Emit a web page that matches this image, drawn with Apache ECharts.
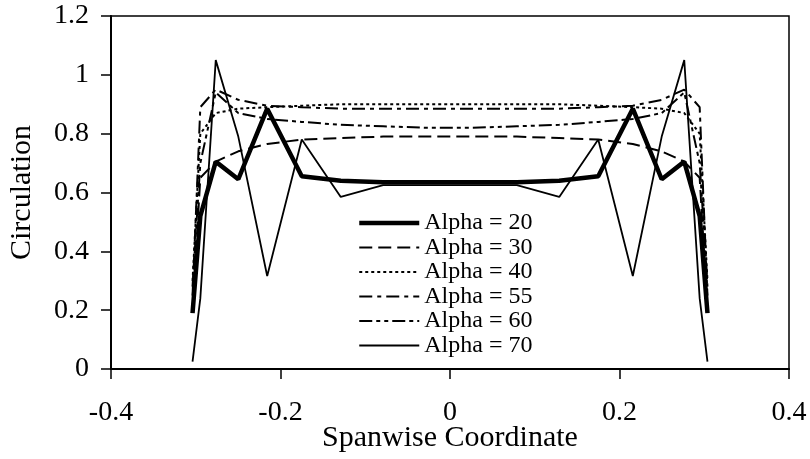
<!DOCTYPE html>
<html>
<head>
<meta charset="utf-8">
<script src="https://cdn.jsdelivr.net/npm/echarts@6/dist/echarts.min.js"></script>
<style>html,body{margin:0;padding:0;background:#fff}#c{width:810px;height:459px}</style>
</head>
<body>
<div id="c"></div>
<script>
// Spanwise stations (left half then right half, mirror)
var xs = [-0.3038, -0.2946, -0.2764, -0.2498, -0.2157, -0.1749, -0.1289, -0.0789, -0.0266,
           0.0266,  0.0789,  0.1289,  0.1749,  0.2157,  0.2498,  0.2764,  0.2946,  0.3038];
var seriesNames = ['Alpha = 20', 'Alpha = 30', 'Alpha = 40', 'Alpha = 55', 'Alpha = 60', 'Alpha = 70'];
var a20 = [0.19, 0.52, 0.705, 0.645, 0.885, 0.655, 0.64, 0.635, 0.635,
           0.635, 0.635, 0.64, 0.655, 0.885, 0.645, 0.705, 0.52, 0.19];
var a30 = [0.20, 0.65, 0.705, 0.74, 0.765, 0.78, 0.785, 0.79, 0.79,
           0.79, 0.79, 0.785, 0.78, 0.765, 0.74, 0.705, 0.65, 0.20];
var a40 = [0.30, 0.80, 0.87, 0.885, 0.89, 0.895, 0.90, 0.90, 0.90,
           0.90, 0.90, 0.90, 0.895, 0.89, 0.885, 0.87, 0.80, 0.30];
var a55 = [0.25, 0.89, 0.95, 0.915, 0.895, 0.89, 0.885, 0.885, 0.885,
           0.885, 0.885, 0.885, 0.89, 0.895, 0.915, 0.95, 0.89, 0.25];
var a60 = [0.28, 0.70, 0.94, 0.87, 0.85, 0.84, 0.83, 0.825, 0.82,
           0.82, 0.825, 0.83, 0.84, 0.85, 0.87, 0.94, 0.70, 0.28];
var a70 = [0.025, 0.24, 1.05, 0.79, 0.316, 0.78, 0.585, 0.625, 0.625,
           0.625, 0.625, 0.585, 0.78, 0.316, 0.79, 1.05, 0.24, 0.025];
var xTicks = [-0.4, -0.2, 0, 0.2, 0.4];
var yTicks = [0, 0.2, 0.4, 0.6, 0.8, 1, 1.2];

var values = [a20, a30, a40, a55, a60, a70];
var styles = [
  {width: 4.5, type: 'solid'},
  {width: 2, type: [13, 6]},
  {width: 2, type: [3, 3]},
  {width: 2, type: [13, 5, 4, 5]},
  {width: 2, type: [13, 4, 4, 4, 4, 4]},
  {width: 1.8, type: 'solid'}
];
function pairs(v) { return xs.map(function (x, i) { return [x, v[i]]; }); }

var font = '"Liberation Serif", "Times New Roman", serif';
var chart = echarts.init(document.getElementById('c'), null, {renderer: 'canvas'});
chart.setOption({
  animation: false,
  backgroundColor: '#fff',
  grid: {left: 111, right: 21, top: 16, bottom: 90, show: true, borderColor: '#000', borderWidth: 1.5,
         backgroundColor: 'transparent', containLabel: false, outerBoundsMode: 'none'},
  xAxis: {
    type: 'value', min: xTicks[0], max: xTicks[xTicks.length - 1], interval: 0.2,
    name: 'Spanwise Coordinate', nameLocation: 'middle', nameGap: 54, nameMoveOverlap: false,
    nameTextStyle: {fontFamily: font, fontSize: 30, color: '#000'},
    axisLine: {show: true, onZero: false, lineStyle: {color: '#000', width: 2}},
    axisTick: {show: true, inside: false, length: 10, lineStyle: {color: '#000', width: 1.5}},
    axisLabel: {margin: 30, fontFamily: font, fontSize: 28, color: '#000',
      formatter: function (v) { return String(Math.round(v * 10) / 10); }},
    splitLine: {show: false}
  },
  yAxis: {
    type: 'value', min: yTicks[0], max: yTicks[yTicks.length - 1], interval: 0.2,
    name: 'Circulation', nameLocation: 'middle', nameGap: 74, nameRotate: 90, nameMoveOverlap: false,
    nameTextStyle: {fontFamily: font, fontSize: 30, color: '#000'},
    axisLine: {show: true, onZero: false, lineStyle: {color: '#000', width: 2}},
    axisTick: {show: true, inside: false, length: 10, lineStyle: {color: '#000', width: 1.5}},
    axisLabel: {margin: 22, fontFamily: font, fontSize: 28, color: '#000',
      formatter: function (v) { return String(Math.round(v * 10) / 10); }},
    splitLine: {show: false}
  },
  legend: {
    show: true, orient: 'vertical', left: 352, top: 206,
    itemWidth: 60, itemHeight: 24, itemGap: 0.5,
    itemStyle: {opacity: 0},
    textStyle: {fontFamily: font, fontSize: 24, color: '#000'},
    data: seriesNames.map(function (n, i) {
      return {name: n, lineStyle: {width: styles[i].width, type: styles[i].type, color: '#000'}};
    })
  },
  series: seriesNames.map(function (n, i) {
    return {
      name: n, type: 'line', data: pairs(values[i]), symbol: 'none', showSymbol: false,
      lineStyle: {color: '#000', width: styles[i].width, type: styles[i].type},
      itemStyle: {color: '#000'}, z: 10 - i
    };
  })
});
</script>
</body>
</html>
